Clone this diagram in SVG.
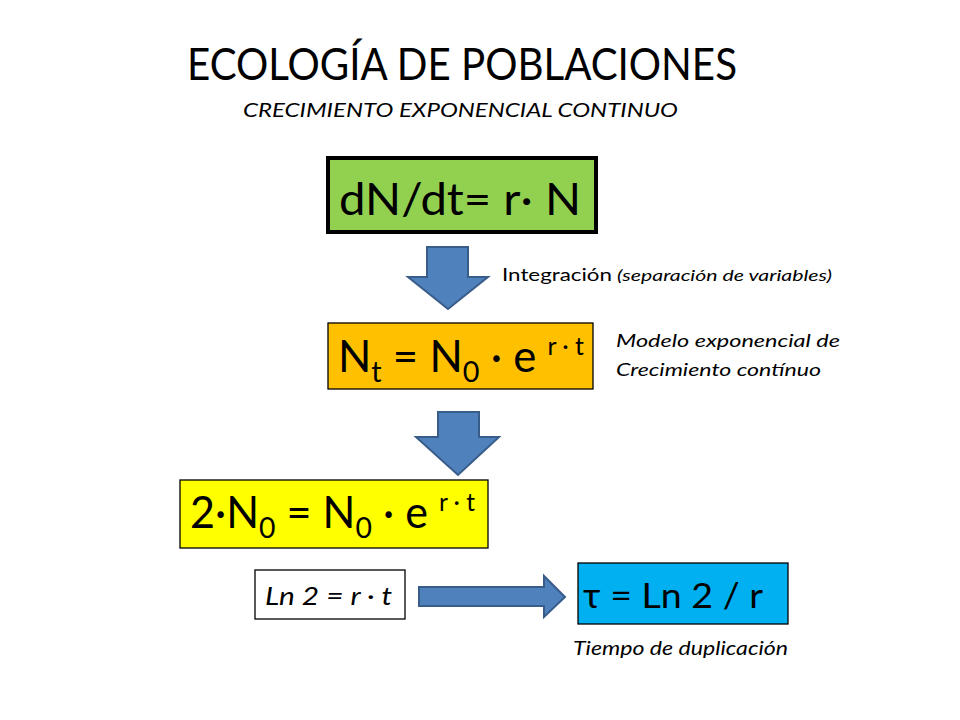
<svg xmlns="http://www.w3.org/2000/svg" width="960" height="720" viewBox="0 0 960 720">
<style>
text{font-family:Lato,"Open Sans","Liberation Sans",sans-serif;fill:#000}
.it{font-style:italic}
.arrow{fill:#4F81BD;stroke:#385D8A;stroke-width:2}
.box{stroke:#000;stroke-width:1.3}
</style>
<rect width="960" height="720" fill="#fff"/>
<g id="title">
<text x="187" y="80" font-size="45" textLength="550" lengthAdjust="spacingAndGlyphs">ECOLOGÍA DE POBLACIONES</text>
<text class="it" x="243" y="117" font-size="19" textLength="435" lengthAdjust="spacingAndGlyphs">CRECIMIENTO EXPONENCIAL CONTINUO</text>
</g>
<g id="n1">
<rect x="328" y="158" width="268" height="74" fill="#92D050" stroke="#000" stroke-width="4"/>
<text x="339" y="215" font-size="45" textLength="242" lengthAdjust="spacingAndGlyphs">dN/dt= r· N</text>
</g>
<g id="n2">
<rect class="box" x="328" y="323" width="265" height="66" fill="#FFC000"/>
<text x="338" y="372" font-size="44" textLength="246" lengthAdjust="spacingAndGlyphs">N<tspan font-size="29" dy="10">t</tspan><tspan dy="-10"> = N</tspan><tspan font-size="29" dy="10">0</tspan><tspan dy="-10"> · e </tspan><tspan font-size="25" dy="-17">r · t</tspan></text>
</g>
<g id="n3">
<rect class="box" x="180" y="480" width="308" height="68" fill="#FFFF00"/>
<text x="190" y="528" font-size="44" textLength="285" lengthAdjust="spacingAndGlyphs">2·N<tspan font-size="29" dy="10">0</tspan><tspan dy="-10"> = N</tspan><tspan font-size="29" dy="10">0</tspan><tspan dy="-10"> · e </tspan><tspan font-size="25" dy="-17">r · t</tspan></text>
</g>
<g id="n4">
<rect class="box" x="255" y="570" width="150" height="49" fill="#fff"/>
<text class="it" x="265" y="605" font-size="26" textLength="127" lengthAdjust="spacingAndGlyphs">Ln 2 = r · t</text>
</g>
<g id="n5">
<rect class="box" x="578" y="563" width="210" height="61" fill="#00B0F0"/>
<text x="583" y="608" font-size="35" textLength="180" lengthAdjust="spacingAndGlyphs">τ = Ln 2 / r</text>
</g>
<g id="labels">
<text x="502" y="281" font-size="18" textLength="110" lengthAdjust="spacingAndGlyphs">Integración</text>
<text class="it" x="617" y="281" font-size="15.5" textLength="215" lengthAdjust="spacingAndGlyphs">(separación de variables)</text>
<text class="it" x="616" y="347" font-size="17" textLength="224" lengthAdjust="spacingAndGlyphs">Modelo exponencial de</text>
<text class="it" x="616" y="376" font-size="17" textLength="205" lengthAdjust="spacingAndGlyphs">Crecimiento contínuo</text>
<text class="it" x="573" y="655" font-size="19" textLength="215" lengthAdjust="spacingAndGlyphs">Tiempo de duplicación</text>
</g>
<g id="connectors">
<path class="arrow" d="M427,247 H468 V277 H488 L448,309 L408,277 H427 Z"/>
<path class="arrow" d="M438,412 H479 V437 H499 L458,475 L416,437 H438 Z"/>
<path class="arrow" d="M419,587 H544 V576 L565,597 L544,617 V606 H419 Z"/>
</g>
</svg>
